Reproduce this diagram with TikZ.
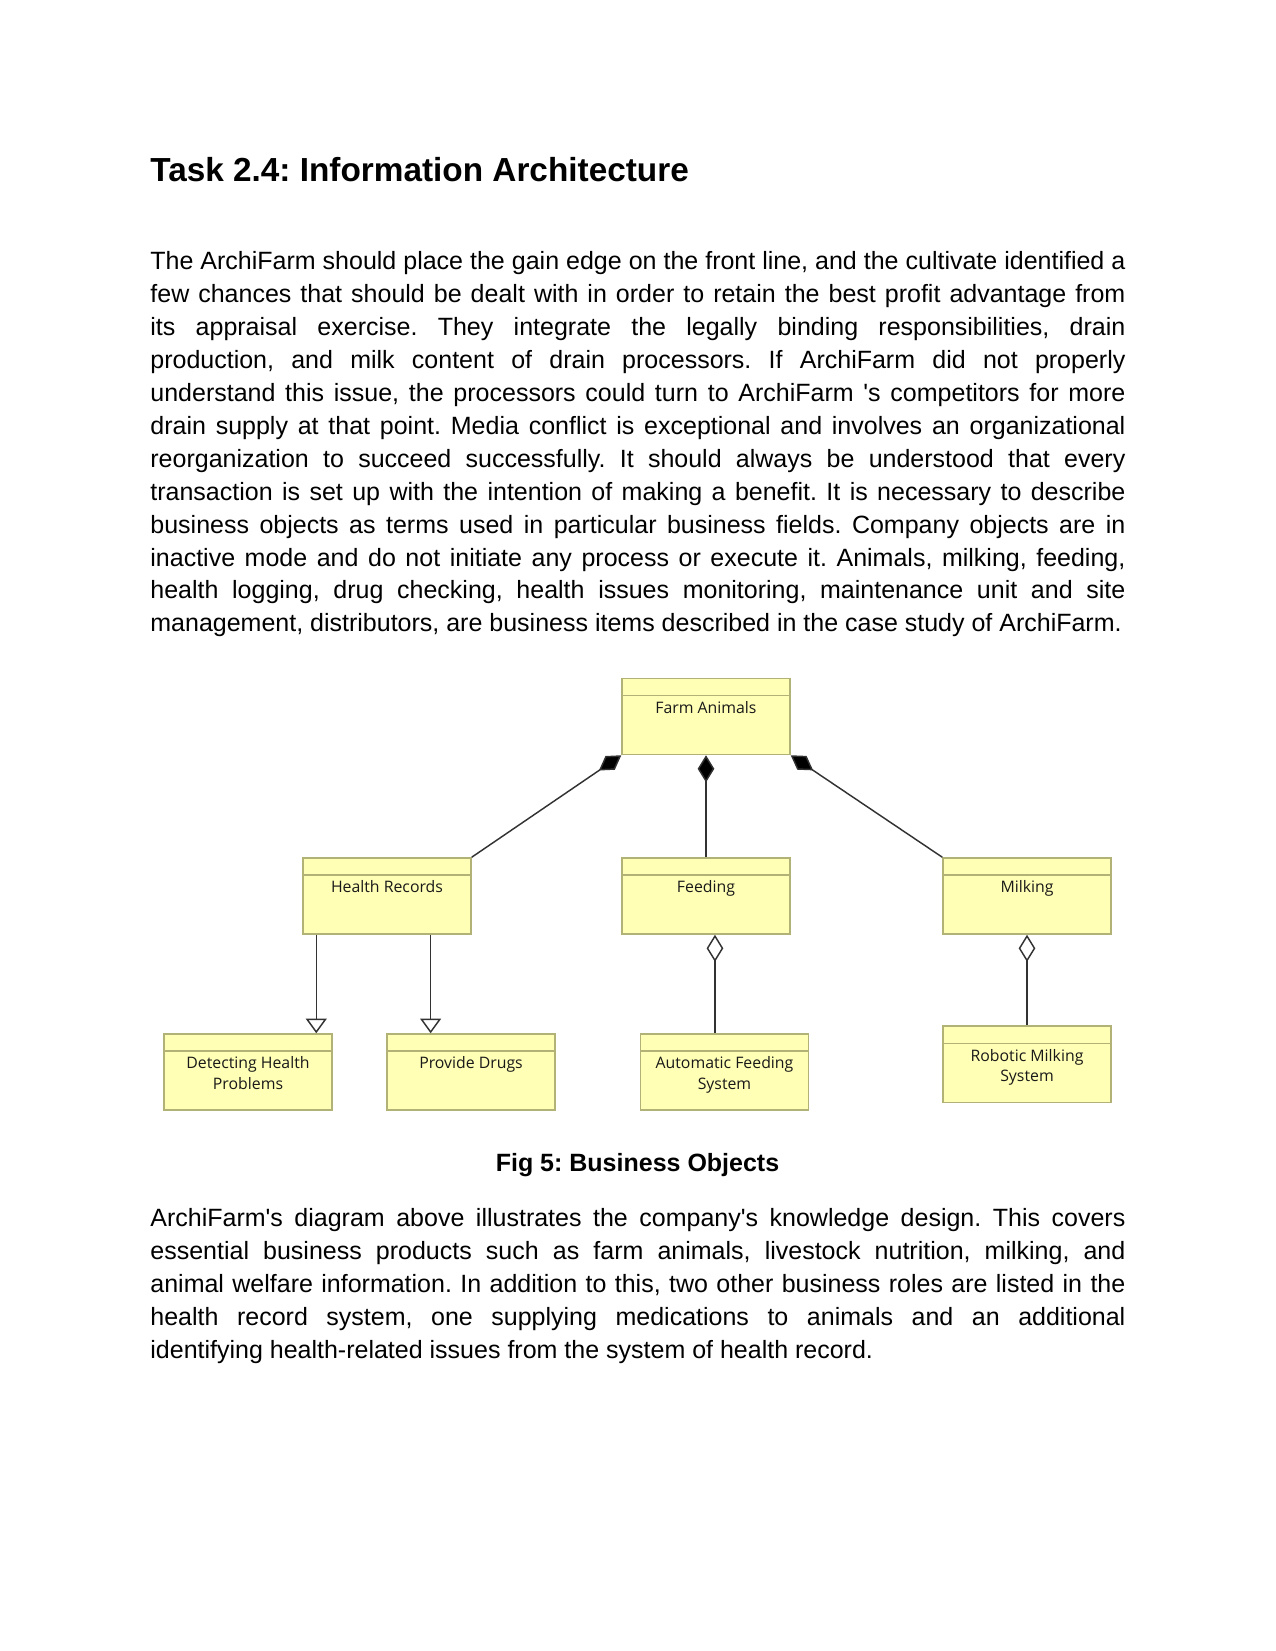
\documentclass[tikz,border=0pt]{standalone}
\usepackage{fontspec}
\setmainfont{Liberation Sans}
\newfontfamily\archifont{Open Sans}
\usetikzlibrary{arrows.meta}
\definecolor{bobjfill}{RGB}{255,255,181}
\definecolor{bobjdraw}{RGB}{178,178,118}
\definecolor{linkgray}{RGB}{50,50,50}
\tikzset{
  bobj/.style={draw=bobjdraw, fill=bobjfill, rectangle, minimum width=80.6pt, minimum height=36.5pt, inner sep=0pt, line width=0.7pt,
    path picture={\draw[bobjdraw, line width=0.7pt] ([yshift=-8.2pt]path picture bounding box.north west) -- ([yshift=-8.2pt]path picture bounding box.north east);}},
  blabel/.style={anchor=north, yshift=-11.1pt, inner sep=0pt, align=center, text=black!90, font=\archifont\fontsize{7.6}{10}\selectfont},
  comp/.style={draw=linkgray, line width=0.7pt, arrows={{Diamond[length=13pt, width=8pt, fill=black]}-}},
  aggr/.style={draw=linkgray, line width=0.7pt, arrows={{Diamond[open, length=13pt, width=8pt, fill=white]}-}},
  spec/.style={draw=linkgray, line width=0.7pt, arrows={-{Triangle[open, length=7pt, width=10pt, fill=white]}}},
  para/.style={anchor=north west, inner sep=0pt, text width=468pt, align=justify, font=\fontsize{12}{15.8}\selectfont}
}
\tolerance=10000
\hbadness=10000
\frenchspacing

\begin{document}
\begin{tikzpicture}[x=0.48pt, y=-0.48pt]
  \useasboundingbox (0,0) rectangle (1275,1651);

  % page text
  \node[anchor=base west, inner sep=0pt, font=\bfseries\fontsize{16}{19}\selectfont] (title) at (150,181.7) {Task 2.4: Information Architecture};
  \node[para] (intro) at (150,246.3) {\strut The ArchiFarm should place the gain edge on the front line, and the cultivate identified a\linebreak
    few chances that should be dealt with in order to retain the best profit advantage from\linebreak
    its appraisal exercise. They integrate the legally binding responsibilities, drain\linebreak
    production, and milk content of drain processors. If ArchiFarm did not properly\linebreak
    understand this issue, the processors could turn to ArchiFarm \textquotesingle s competitors for more\linebreak
    drain supply at that point. Media conflict is exceptional and involves an organizational\linebreak
    reorganization to succeed successfully. It should always be understood that every\linebreak
    transaction is set up with the intention of making a benefit. It is necessary to describe\linebreak
    business objects as terms used in particular business fields. Company objects are in\linebreak
    inactive mode and do not initiate any process or execute it. Animals, milking, feeding,\linebreak
    health logging, drug checking, health issues monitoring, maintenance unit and site\linebreak
    management, distributors, are business items described in the case study of ArchiFarm.};

  % business objects
  \node[bobj, label={[blabel]north:Farm Animals}] (farm) at (706,716.5) {};
  \node[bobj, label={[blabel]north:Health Records}] (health) at (387,896) {};
  \node[bobj, label={[blabel]north:Feeding}] (feeding) at (706,896) {};
  \node[bobj, label={[blabel]north:Milking}] (milking) at (1027,896) {};
  \node[bobj, label={[blabel]north:Detecting Health\\Problems}] (detect) at (248,1072) {};
  \node[bobj, label={[blabel]north:Provide Drugs}] (drugs) at (471,1072) {};
  \node[bobj, label={[blabel]north:Automatic Feeding\\System}] (autofeed) at (724.5,1072) {};
  \node[bobj, label={[blabel]north:Robotic Milking\\System}] (robotic) at (1027,1064.2) {};

  % composition
  \draw[comp] (farm.south west) -- (health.north east);
  \draw[comp] (farm.south) -- (feeding.north);
  \draw[comp] (farm.south east) -- (milking.north west);

  % specialization
  \coordinate (hrleft) at ([xshift=6.7pt]health.south west);
  \coordinate (hrright) at ([xshift=-19.7pt]health.south east);
  \draw[spec] (hrleft) -- (hrleft |- detect.north);
  \draw[spec] (hrright) -- (hrright |- drugs.north);

  % aggregation
  \coordinate (fdout) at ([xshift=4.3pt]feeding.south);
  \draw[aggr] (fdout) -- (fdout |- autofeed.north);
  \draw[aggr] (milking.south) -- (robotic.north);

  \node[anchor=base, inner sep=0pt, font=\bfseries\fontsize{12}{15.8}\selectfont] (caption) at (637.5,1171.7) {Fig 5: Business Objects};
  \node[para] (outro) at (150,1203) {\strut ArchiFarm\textquotesingle s diagram above illustrates the company\textquotesingle s knowledge design. This covers\linebreak
    essential business products such as farm animals, livestock nutrition, milking, and\linebreak
    animal welfare information. In addition to this, two other business roles are listed in the\linebreak
    health record system, one supplying medications to animals and an additional\linebreak
    identifying health-related issues from the system of health record.};
\end{tikzpicture}
\end{document}
